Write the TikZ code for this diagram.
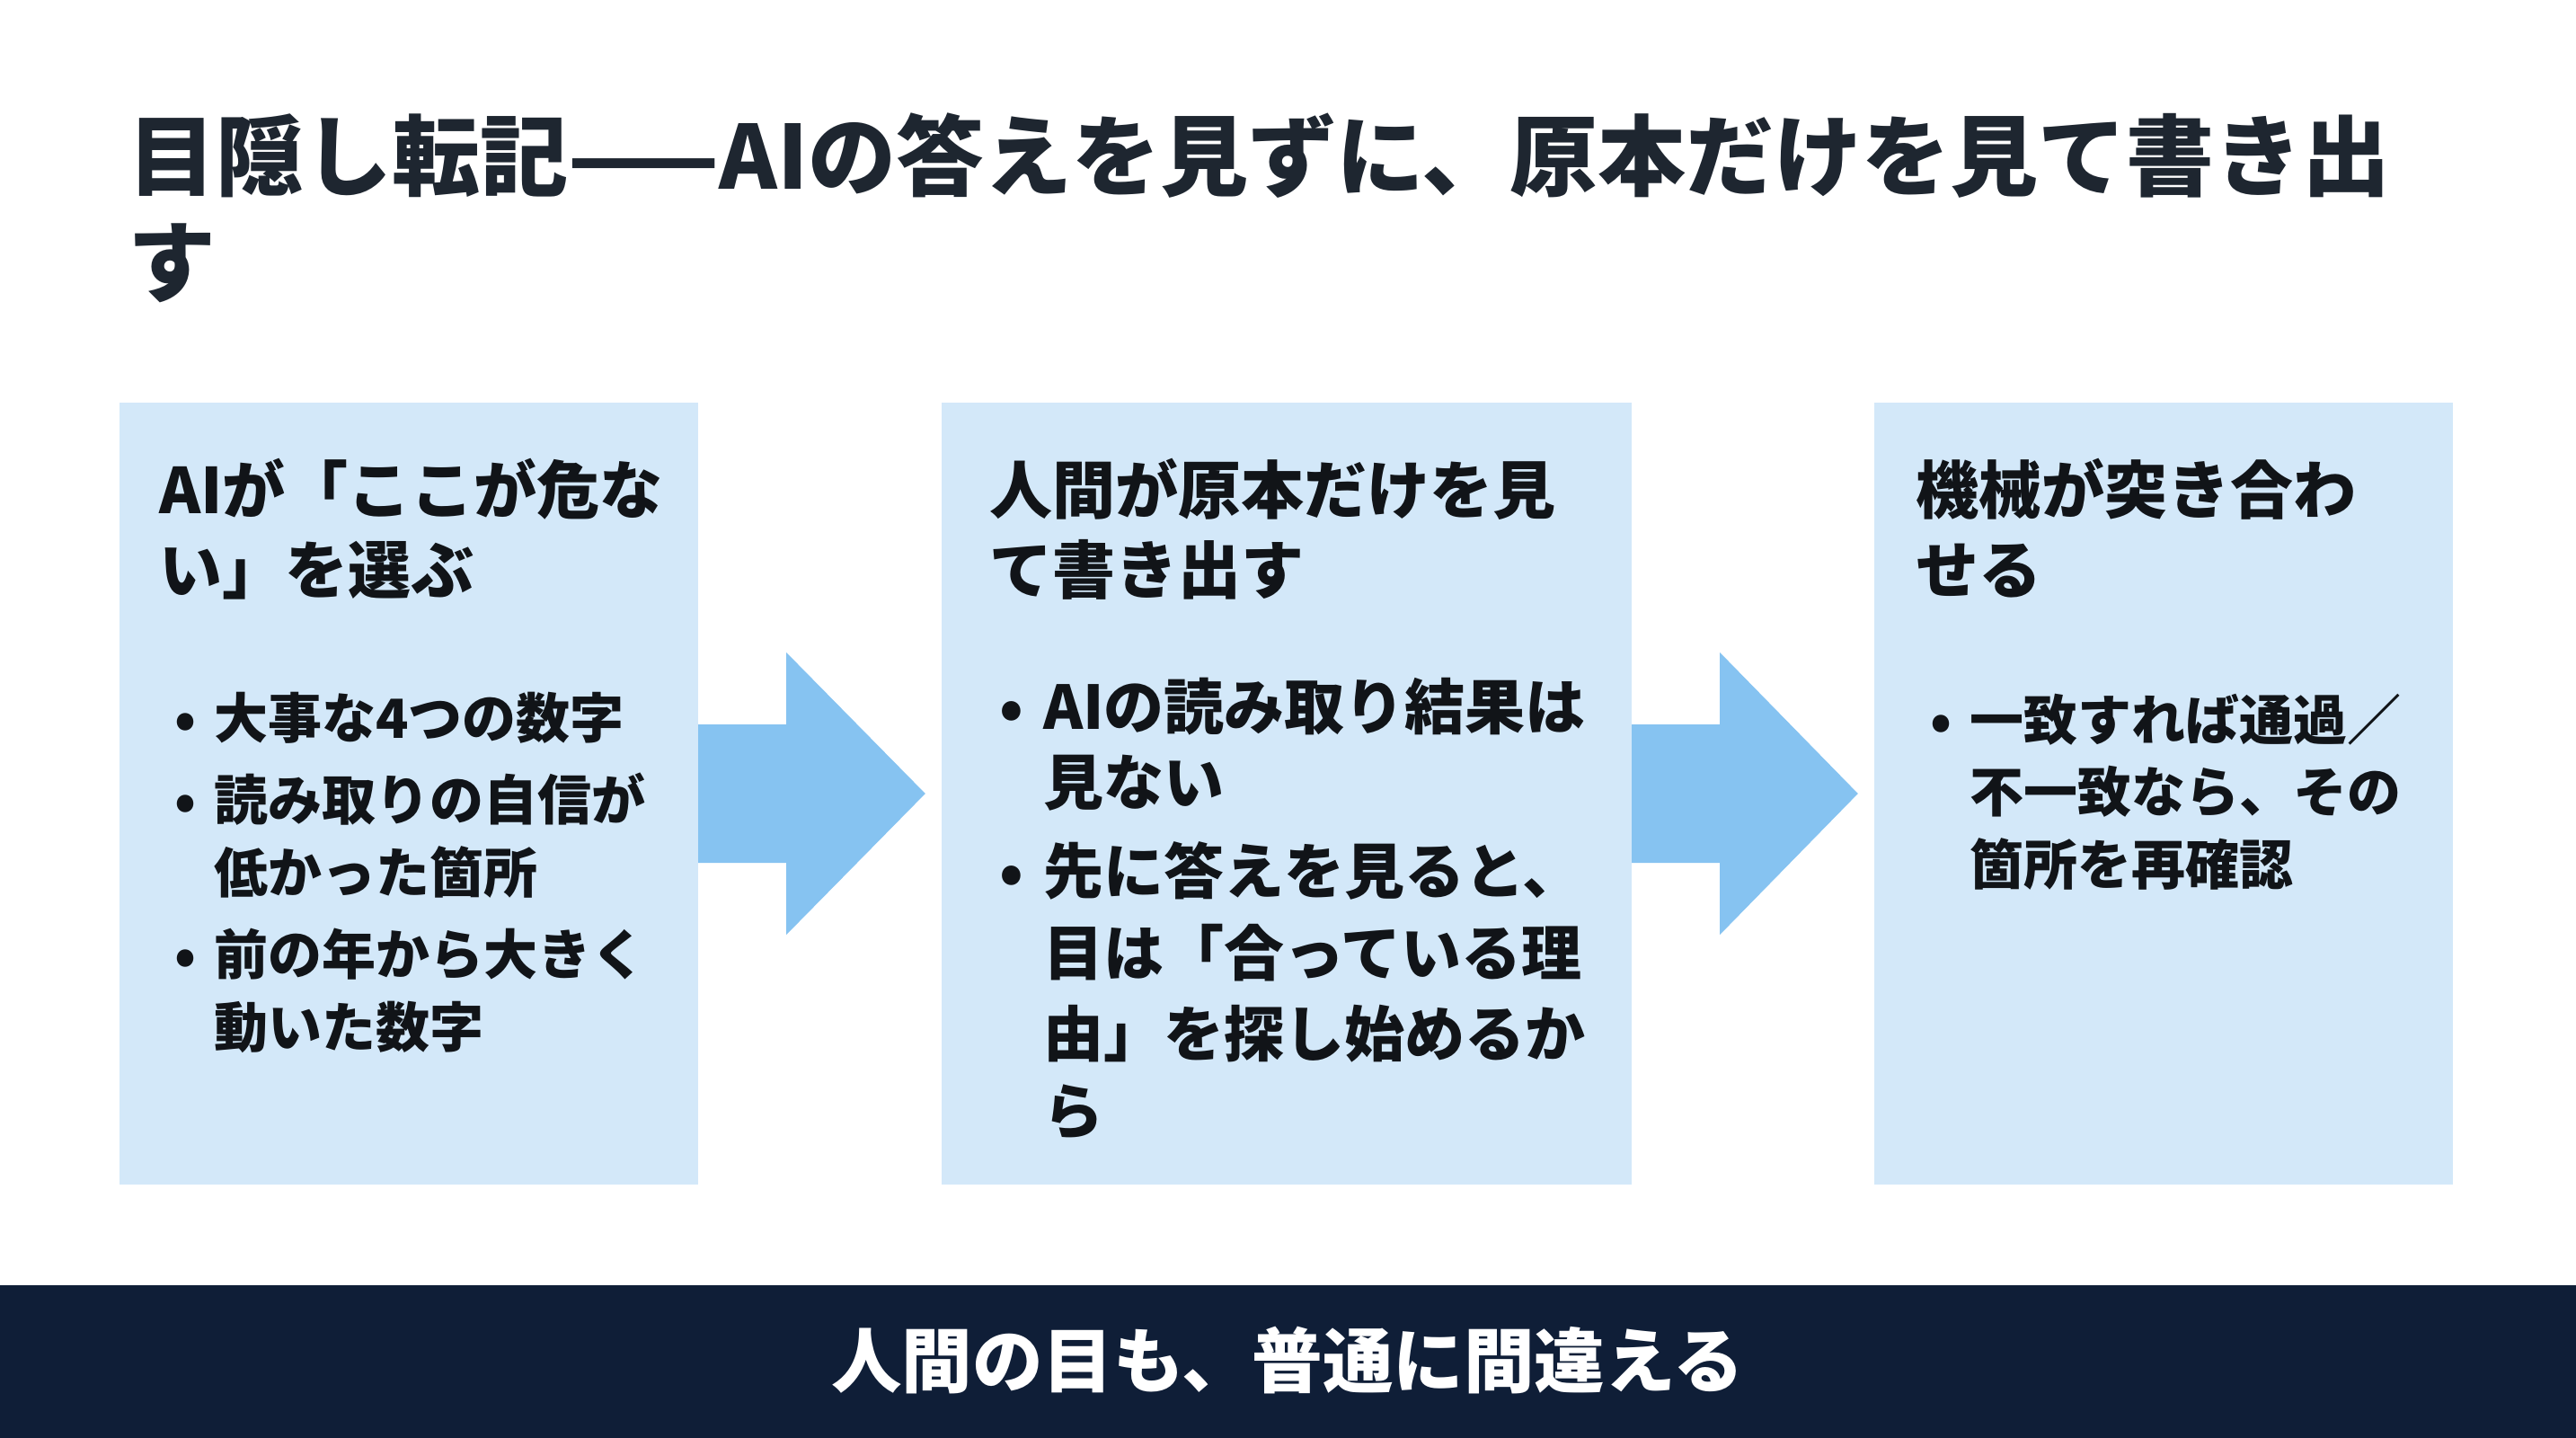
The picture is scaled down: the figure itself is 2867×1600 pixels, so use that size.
\documentclass[tikz,border=0pt]{standalone}
\usepackage{fontspec}
\setmainfont{Noto Sans CJK JP}
\usetikzlibrary{calc}
\definecolor{titlec}{HTML}{1E2630}
\definecolor{boxc}{HTML}{D3E8F9}
\definecolor{arrowc}{HTML}{86C3F1}
\definecolor{bannerc}{HTML}{0F1E37}
\definecolor{textc}{HTML}{111418}
\tikzset{
  panel/.style={fill=boxc, draw=none, inner sep=0pt},
  ttl/.style={anchor=base west, inner sep=0pt, text=titlec, font=\bfseries\fontsize{98}{119}\selectfont},
  boxhead/.style={anchor=base west, inner sep=0pt, text=textc, font=\bfseries\fontsize{70}{90}\selectfont},
  itm/.style={anchor=base west, inner sep=0pt, text=textc, font=\bfseries\fontsize{60}{80}\selectfont},
  itmb/.style={anchor=base west, inner sep=0pt, text=textc, font=\bfseries\fontsize{67}{88}\selectfont},
  blockarrow/.style={fill=arrowc, draw=none},
}
\begin{document}
\begin{tikzpicture}[x=1pt,y=-1pt]
\useasboundingbox (0,0) rectangle (2867,1600);
\fill[white] (0,0) rectangle (2867,1600);
% title
\node[ttl] (title1) at (142,210) {目隠し転記——AIの答えを見ずに、原本だけを見て書き出};
\node[ttl] (title2) at (142,328) {す};
% panels
\node[panel, minimum width=644, minimum height=870] (b1) at (455,883) {};
\node[panel, minimum width=768, minimum height=870] (b2) at (1432,883) {};
\node[panel, minimum width=644, minimum height=870] (b3) at (2408,883) {};
% arrows
\fill[blockarrow] ($(b1.east)+(0,-77)$) -- ($(b1.east)+(98,-77)$) -- ($(b1.east)+(98,-157)$)
  -- ($(b2.west)+(-18,0)$) -- ($(b1.east)+(98,157)$) -- ($(b1.east)+(98,77)$) -- ($(b1.east)+(0,77)$) -- cycle;
\fill[blockarrow] ($(b2.east)+(0,-77)$) -- ($(b2.east)+(98,-77)$) -- ($(b2.east)+(98,-157)$)
  -- ($(b3.west)+(-18,0)$) -- ($(b2.east)+(98,157)$) -- ($(b2.east)+(98,77)$) -- ($(b2.east)+(0,77)$) -- cycle;
% panel 1
\node[boxhead] (h1a) at (177,571) {AIが「ここが危な};
\node[boxhead] (h1b) at (177,660) {い」を選ぶ};
\node[itm] (p1d1) at (194,821) {•};
\node[itm] (p1l1) at (238,821) {大事な4つの数字};
\node[itm] (p1d2) at (194,912) {•};
\node[itm] (p1l2) at (238,912) {読み取りの自信が};
\node[itm] (p1l3) at (238,993) {低かった箇所};
\node[itm] (p1d3) at (194,1084) {•};
\node[itm] (p1l4) at (238,1084) {前の年から大きく};
\node[itm] (p1l5) at (238,1165) {動いた数字};
% panel 2
\node[boxhead] (h2a) at (1101,571) {人間が原本だけを見};
\node[boxhead] (h2b) at (1101,660) {て書き出す};
\node[itmb] (p2d1) at (1112,811) {•};
\node[itmb] (p2l1) at (1161,811) {AIの読み取り結果は};
\node[itmb] (p2l2) at (1161,895) {見ない};
\node[itmb] (p2d2) at (1112,994) {•};
\node[itmb] (p2l3) at (1161,994) {先に答えを見ると、};
\node[itmb] (p2l4) at (1161,1085) {目は「合っている理};
\node[itmb] (p2l5) at (1161,1175) {由」を探し始めるか};
\node[itmb] (p2l6) at (1161,1261) {ら};
% panel 3
\node[boxhead] (h3a) at (2132,571) {機械が突き合わ};
\node[boxhead] (h3b) at (2132,660) {せる};
\node[itm] (p3d1) at (2148,823) {•};
\node[itm] (p3l1) at (2192,823) {一致すれば通過／};
\node[itm] (p3l2) at (2192,903) {不一致なら、その};
\node[itm] (p3l3) at (2192,984) {箇所を再確認};
% banner
\node[fill=bannerc, minimum width=2867, minimum height=170, inner sep=0pt, anchor=north west] (banner) at (0,1430) {};
\node[anchor=base, inner sep=0pt, text=white, font=\bfseries\fontsize{78.5}{90}\selectfont] (bannertext) at (1433,1543) {人間の目も、普通に間違える};
\end{tikzpicture}
\end{document}
